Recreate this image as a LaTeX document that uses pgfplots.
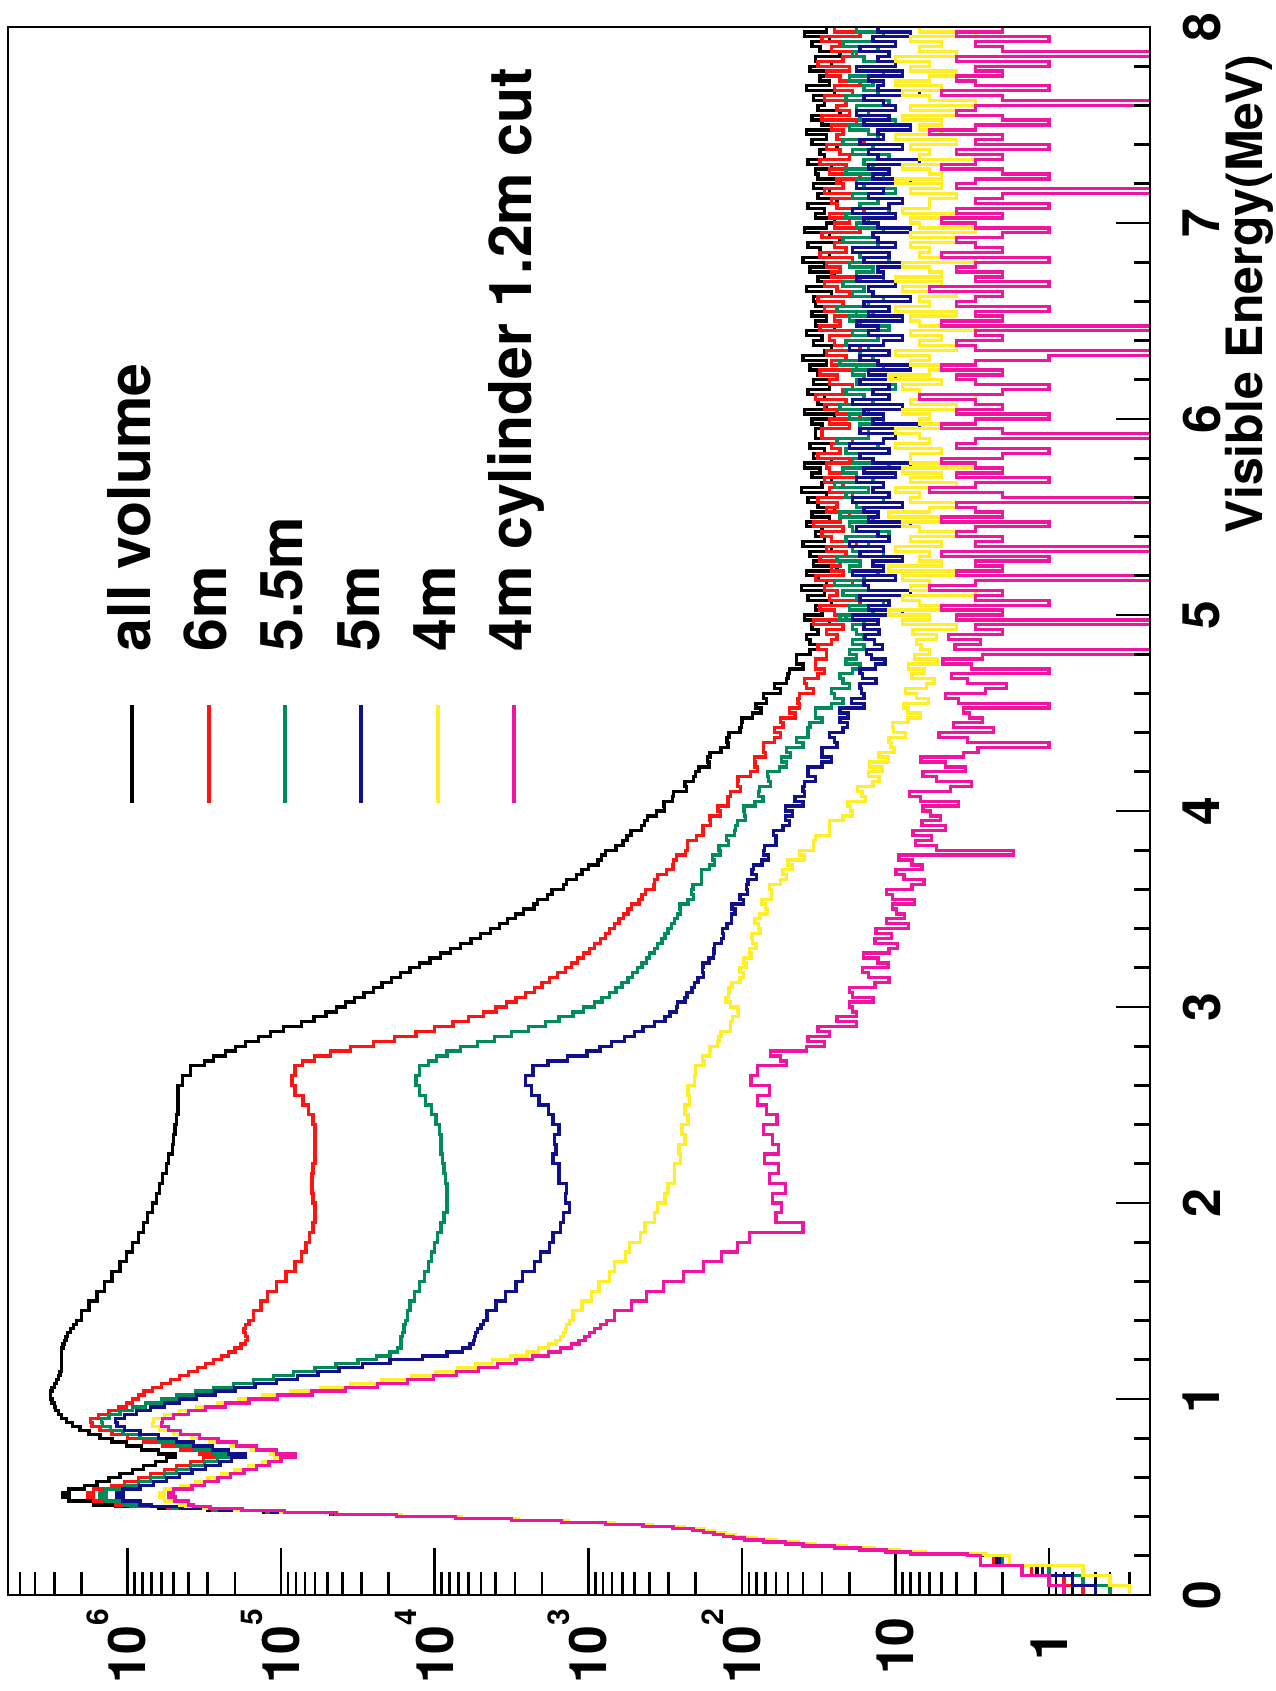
\documentclass[border=0pt]{standalone}
\usepackage{fontspec}
\setmainfont{TeX Gyre Heros}
\usepackage{pgfplots}
\usepackage{pgfplotstable}
\pgfplotsset{compat=1.18}

\definecolor{cGreen}{RGB}{0,140,90}
\definecolor{cBlue}{RGB}{16,16,140}
\definecolor{cRed}{RGB}{255,20,20}
\definecolor{cYellow}{RGB}{255,238,40}
\definecolor{cPink}{RGB}{240,20,160}

% Visible-energy spectra (counts per bin), each bin starts at E
% K: all volume, R: 6m, G: 5.5m, B: 5m, Y: 4m, M: 4m cylinder 1.2m cut
\pgfplotstableread{
E K R G B Y M
0.00 0.5 0.6 0.4 0.5 0.3 0.8
0.05 0.7 0.8 0.6 0.7 0.4 1.0
0.10 1.2 1.3 1.0 1.1 0.6 1.5
0.15 2.2 2.3 2.0 2.1 1.8 2.8
0.20 2.8 2.9 2.7 2.8 2.6 3.4
0.21 6.9 7.0 6.6 6.8 6.4 8
0.22 10 10 9.7 9.8 9.4 11.5
0.23 14.5 14.8 14 14.2 13.8 17
0.24 22 22 21 21.5 21 25
0.25 35 35 34 34 33 40
0.26 45 46 44 44 43 52
0.27 63 64 62 61 60 72
0.28 85 86 83 82 81 96
0.29 100 101 98 97 95 113
0.30 117 118 115 113 111 132
0.31 135 136 132 130 128 152
0.32 158 160 155 152 150 178
0.33 186 188 183 180 176 208
0.34 251 253 246 242 238 280
0.35 400 402 392 385 380 440
0.36 710 712 695 685 675 770
0.37 1410 1400 1380 1360 1340 1500
0.38 3000 2980 2940 2900 2850 3150
0.39 7100 7050 6950 6850 6700 7300
0.40 17800 17600 17300 17000 16500 17800
0.41 47900 47000 46000 45000 43000 44000
0.42 130000 125000 120000 115000 100000 95000
0.43 300000 280000 270000 250000 200000 180000
0.44 630000 550000 500000 450000 320000 290000
0.45 1200000 950000 850000 700000 420000 370000
0.46 1660000 1200000 1050000 830000 460000 400000
0.48 2400000 1660000 1380000 1070000 575000 490000
0.50 2630000 1820000 1510000 1170000 620000 540000
0.52 2400000 1660000 1380000 1070000 575000 500000
0.54 1900000 1260000 1050000 830000 450000 380000
0.56 1580000 1050000 850000 680000 360000 316000
0.58 1320000 850000 710000 560000 300000 257000
0.60 1120000 710000 575000 460000 245000 214000
0.62 930000 575000 480000 380000 200000 174000
0.64 790000 480000 390000 310000 162000 145000
0.66 660000 390000 316000 250000 132000 120000
0.68 560000 320000 260000 210000 110000 100000
0.70 490000 260000 214000 170000 89000 81000
0.72 630000 340000 275000 220000 117000 107000
0.74 810000 450000 360000 280000 158000 145000
0.76 1020000 590000 480000 370000 214000 195000
0.78 1260000 780000 630000 480000 290000 257000
0.80 1510000 1000000 830000 630000 380000 340000
0.82 1780000 1260000 1070000 830000 500000 450000
0.84 2040000 1510000 1290000 1050000 620000 540000
0.86 2290000 1700000 1450000 1170000 690000 600000
0.88 2500000 1740000 1480000 1200000 680000 590000
0.90 2700000 1550000 1320000 1050000 575000 500000
0.92 2800000 1320000 1120000 870000 460000 400000
0.94 2950000 1150000 930000 710000 355000 310000
0.96 3000000 1020000 760000 575000 260000 230000
0.98 3100000 930000 600000 460000 190000 162000
1.00 3160000 850000 480000 355000 132000 105000
1.02 3160000 780000 360000 270000 87000 63000
1.04 3100000 690000 275000 200000 55000 38000
1.06 3000000 600000 204000 148000 35000 23500
1.08 2900000 525000 151000 107000 22000 15100
1.10 2800000 460000 112000 78000 14100 10200
1.12 2750000 400000 83000 57500 9800 7200
1.14 2700000 350000 60000 42000 7100 5200
1.16 2700000 310000 44000 29500 5400 3900
1.18 2700000 275000 31600 19500 4200 2950
1.20 2700000 245000 24000 12000 3200 2300
1.22 2700000 220000 19500 8300 2500 1820
1.24 2700000 200000 17400 6600 2100 1510
1.26 2630000 182000 16600 5900 1820 1290
1.28 2570000 170000 16600 5600 1620 1150
1.30 2510000 166000 16600 5500 1510 1050
1.32 2450000 170000 16200 5400 1450 980
1.34 2340000 174000 15800 5250 1410 910
1.36 2240000 170000 15800 5000 1380 830
1.38 2140000 162000 15500 4800 1320 760
1.40 2000000 151000 15100 4570 1260 676
1.45 1780000 135000 14500 3980 1100 525
1.50 1580000 123000 13500 3470 955 417
1.55 1410000 107000 12600 2950 850 324
1.60 1260000 93000 11700 2690 725 240
1.65 1120000 81000 11000 2240 676 178
1.70 1020000 74000 10500 2040 575 135
1.75 930000 69000 10000 1780 537 107
1.80 850000 65000 9550 1700 457 89
1.85 790000 62000 9100 1510 427 40
1.90 740000 60000 8700 1450 372 60
1.95 690000 60000 8300 1320 355 55
2.00 650000 62000 8300 1410 316 63
2.05 620000 63000 8300 1380 302 52
2.10 590000 63000 8500 1550 275 66
2.15 560000 62000 8700 1550 275 58
2.20 540000 60000 8900 1700 251 71
2.25 510000 60000 9100 1620 257 58
2.30 500000 60000 9100 1660 234 63
2.35 490000 60000 9300 1550 245 72
2.40 480000 62000 9800 1700 224 59
2.45 470000 66000 10500 1820 234 69
2.50 470000 72000 11500 2090 219 79
2.55 470000 81000 12600 2340 224 66
2.60 440000 85000 13200 2570 204 87
2.65 390000 81000 12600 2290 200 79
2.700 316000 72400 10960 1830 176 51
2.725 275000 60300 9770 1360 181 56
2.750 229000 47900 8320 1020 162 65
2.775 199000 35500 6760 837 161 38
2.800 170000 25100 5250 707 144 29
2.825 141000 18200 4070 578 141 37
2.850 117000 13200 3160 502 137 27
2.875 96000 10000 2450 440 118 32
2.900 74000 7590 1905 369 118 18
2.925 61000 6030 1550 317 115 24
2.950 51000 4790 1260 293 105 18
2.975 43600 3980 1070 267 106 19
3.000 38000 3390 912 263 118 20
3.025 33200 2950 813 234 127 14
3.050 28900 2570 724 227 122 19
3.075 25100 2240 661 211 121 20
3.100 22000 2000 603 204 116 13.6
3.125 19100 1780 550 193 103 11
3.150 16700 1580 513 178 98 15
3.175 14500 1410 479 181 103 16.4
3.200 12600 1290 447 179 94 11.2
3.225 10700 1175 417 164 97 13
3.250 9160 1070 398 153 87 16.2
3.275 7880 977 372 152 89 11
3.300 6780 912 355 151 81 9.7
3.325 5810 832 331 136 85 13.6
3.350 5010 776 316 132 86 10.6
3.375 4310 724 302 133 76 13.4
3.400 3800 676 288 125 78 8.2
3.425 3360 631 275 117 82 11.4
3.450 2980 589 263 117 76 8.7
3.475 2630 550 251 111 68 9.8
3.500 2250 523 253 116 70 10.4
3.525 2140 467 224 98 74 7.5
3.550 1840 447 206 103 64 10.5
3.575 1720 423 212 92 64 11.4
3.600 1450 373 208 93 66 7.8
3.625 1380 372 184 91 56 6.5
3.650 1190 354 183 80 51 8.8
3.675 1100 310 184 86 54 9.9
3.700 1000 280 163 84 47 6.7
3.725 865 278 151 74 50 7.8
3.750 820 266 156 67 39 9.5
3.775 770 233 139 72 42 1.7
3.800 660 225 141 71 34 5.4
3.825 594 225 122 60 34 7.4
3.850 560 197 126 60 33 5.8
3.875 528 179 112 62 27 7.7
3.900 452 179 110 54 27 4.7
3.925 429 160 107 49 27 6.7
3.950 410 161 95 52 22 5.1
3.975 359 138 96 47 19 5.9
4.000 319 143 97 52 19.6 6.6
4.025 322 123 82 40 20.4 3.9
4.050 282 123 73 45 15.6 6.9
4.075 278 118 78 39 16.5 8.1
4.100 230 102 77 40 17.7 4.4
4.125 235 107 65 39 14 3.2
4.150 207 106 67 33 12.8 5.4
4.175 200 88 68 37 14.9 6.6
4.200 190 79 57 37 12.2 3.5
4.225 164 82 51 30 14.7 4.7
4.250 168 83 55 26 11.2 6.8
4.275 161 70 48 30 12.8 3.6
4.300 137 72 51 30 10.2 2.9
4.325 123 72 40 24 10.7 1
4.350 125 61 44 25 11 3.4
4.375 121 56 37 27 8.6 5.2
4.400 103 61 37 22 10.3 2.3
4.425 101 54 36 20.5 10.5 4.2
4.450 100 56 30 23 8.3 2.7
4.475 85 45 33 20.4 6.9 3.3
4.500 75 49 33 23 8.3 3.6
4.525 81 42 26 16 8.9 1
4.550 69 43 22 19.4 6.1 3.9
4.575 72 42 25 16 7.3 4.7
4.600 56 34 26 16.6 8.6 2.6
4.625 61 38 20 17 6.3 1.9
4.650 51 39 22 13.4 5.6 3.4
4.675 50 32 23 16.4 7.8 4.3
4.700 49 29 19 17 6.5 1
4.725 40 33 17 13.5 8.2 3.2
4.750 44 33 21 11.7 5.3 4.9
4.775 44 28 18 14.3 7.5 2.7
4.800 36 28 20 15.4 6 0.1
4.825 32 32 16 12.1 6.8 4.1
4.850 36 26 19 13.7 7.3 2.8
4.875 38 24 16 15.8 5.4 4.5
4.900 32 28 18 12.8 7.7 2.0
4.925 35 22 19 16 4 3
4.950 27 34 16 13 9 0.1
4.975 39 21 23 19 6 4
5.000 30 25 14 9 11 2
5.025 33 31 20 15 5 5
5.050 26 17 12 11 7 1
5.075 37 27 18 17 9 3
5.100 29 24 22 8 3 2
5.125 41 29 15 15 8 6
5.150 28 19 25 16 6 3
5.175 32 33 16 10 9 0.1
5.200 38 22 13 19 4 4
5.225 24 26 20 12 11 2
5.250 34 23 17 14 5 3
5.275 31 31 24 9 7 1
5.300 36 21 12 17 6 5
5.325 26 28 19 12 10 0.1
5.350 40 18 15 20 5 3
5.375 29 26 21 11 8 2
5.400 33 30 11 13 4 4
5.425 30 22 19 18 7 3
5.450 38 34 20 8 9 1
5.475 27 23 14 15 5 5
5.500 35 20 23 13 11 2
5.525 25 28 16 16 6 3
5.550 32 24 18 9 4 4
5.575 37 32 12 19 8 0.1
5.600 28 19 21 11 7 2
5.625 41 27 15 14 10 6
5.650 30 22 25 12 4 3
5.675 26 29 14 18 8 1
5.700 35 18 18 10 5 4
5.725 31 27 22 16 9 2
5.750 39 28 11 8 3 3
5.775 26 20 19 14 8 5
5.800 34 32 17 17 8 2
5.825 29 23 21 11 5 1
5.850 36 26 13 20 10 4
5.875 24 19 24 12 6 3
5.900 33 30 15 10 7 0.1
5.925 33 30 15 17 10 2
5.950 30 20 17 7 5 5
5.975 35 27 12 14 7 3
6.000 25 17 20 12 6 1
6.025 39 24 15 16 9 4
6.050 28 29 23 9 4 2
6.075 32 21 14 19 8 3
6.100 29 33 16 11 3 7
6.125 37 22 21 14 7 2
6.150 27 19 10 11 9 1
6.175 34 27 18 17 5 3
6.200 24 24 16 10 11 4
6.225 32 31 19 15 6 2
6.250 36 18 12 8 4 5
6.275 28 26 23 13 8 3
6.300 40 21 14 17 6 1
6.325 29 28 17 11 10 0.1
6.350 26 17 15 20 4 3
6.375 34 25 21 12 7 4
6.400 30 27 13 9 5 2
6.425 38 19 19 15 8 3
6.450 25 31 11 13 3 0.1
6.475 33 23 17 18 7 5
6.500 28 25 20 9 8 2
6.525 35 18 14 15 4 3
6.550 24 29 24 11 10 1
6.575 33 22 15 16 6 4
6.600 34 32 12 8 7 3
6.625 26 20 19 14 4 2
6.650 38 24 16 15 9 6
6.675 29 29 22 10 5 1
6.700 32 17 12 18 10 3
6.725 25 26 18 12 5 2
6.750 36 23 14 13 6 4
6.775 29 28 20 9 9 3
6.800 40 19 11 16 3 1
6.825 27 31 17 11 7 5
6.850 31 21 19 19 6 2
6.875 37 25 13 10 8 3
6.900 23 22 22 13 4 4
6.925 27 30 14 14 8 2
6.950 39 17 12 8 3 1
6.975 28 25 18 13 7 3
7.000 25 20 15 16 8 5
7.025 33 27 21 10 4 2
7.050 29 16 11 19 9 4
7.075 37 24 17 11 6 1
7.100 24 26 13 9 6 3
7.125 32 19 19 15 4 2
7.150 27 29 10 12 8 0.1
7.175 34 22 16 18 5 4
7.200 23 24 18 8 10 3
7.225 32 17 12 14 5 1
7.250 33 27 21 11 6 2
7.275 26 21 14 15 9 5
7.300 37 31 16 7 3 3
7.325 29 20 11 13 7 2
7.350 31 23 19 15 6 4
7.375 24 28 14 9 8 1
7.400 35 16 22 17 4 3
7.425 28 24 13 12 10 2
7.450 38 22 15 13 5 6
7.475 26 26 20 8 7 3
7.500 30 18 10 16 5 1
7.525 35 30 17 11 9 2
7.550 23 20 15 18 4 4
7.575 32 24 18 10 8 3
7.600 29 21 11 12 3 0.1
7.625 34 29 21 16 6 2
7.650 25 19 13 7 9 5
7.675 38 25 16 13 5 1
7.700 27 17 14 12 10 3
7.725 31 23 20 15 6 4
7.750 28 28 12 9 4 2
7.775 36 20 18 18 8 3
7.800 26 32 10 10 6 1
7.825 33 22 16 13 10 4
7.850 23 18 19 11 4 0.1
7.875 31 26 13 17 7 2
7.900 35 23 22 10 5 3
7.925 27 30 14 14 8 1
7.950 39 17 12 8 3 4
7.975 28 25 18 13 7 2
8.000 28 25 18 13 7 2
}\spectra

% power-of-ten tick label with a raised exponent
\newcommand\tenpow[1]{10\smash{\raisebox{11.1pt}{\fontsize{9}{9}\selectfont #1}}}

\begin{document}
\begin{tikzpicture}[rotate=90, transform shape]
\useasboundingbox (0,0) rectangle (507.3pt,382.5pt);
% spectra, log-count axis with its ticks
\begin{axis}[
  at={(28.8pt,37.5pt)}, anchor=south west,
  scale only axis, width=470.4pt, height=342.6pt,
  xmin=0, xmax=8, ymode=log, ymin=0.22, ymax=6e6,
  axis line style={line width=0.8pt},
  tick pos=left, tick align=inside,
  major tick length=14pt, minor tick length=7pt,
  tick style={line width=0.8pt, black},
  xtick=\empty,
  ytick={1,10,100,1000,10000,100000,1000000},
  yticklabels={1,10,\tenpow{2},\tenpow{3},\tenpow{4},\tenpow{5},\tenpow{6}},
  minor ytick={0.3,0.4,0.5,0.6,0.7,0.8,0.9,2,3,4,5,6,7,8,9,20,30,40,50,60,70,80,90,200,300,400,500,600,700,800,900,2000,3000,4000,5000,6000,7000,8000,9000,20000,30000,40000,50000,60000,70000,80000,90000,200000,300000,400000,500000,600000,700000,800000,900000,2000000,3000000,4000000,5000000},
  yticklabel style={anchor=center, inner sep=0pt, xshift=-15.3pt,
    font=\fontsize{15.5}{15.5}\selectfont\bfseries},
  legend style={
    at={(0.5038,0.9127)}, anchor=north west,
    draw=none, fill=none, inner sep=0pt, outer sep=0pt,
    row sep=6.5pt,
    font=\fontsize{17.7}{17.7}\selectfont\bfseries,
    nodes={inner sep=0pt, text height=12.7pt, text depth=3.7pt},
    /tikz/every odd column/.append style={column sep=15.6pt},
  },
  legend cell align=left,
  legend image code/.code={\draw[#1, line width=1.2pt] (0pt,0.8pt) -- (29.4pt,0.8pt);},
  every axis plot/.append style={const plot, line width=1.0pt, no marks},
]
\addplot[black]   table[x=E, y=K] {\spectra};
\addplot[cRed]    table[x=E, y=R] {\spectra};
\addplot[cGreen]  table[x=E, y=G] {\spectra};
\addplot[cBlue]   table[x=E, y=B] {\spectra};
\addplot[cYellow] table[x=E, y=Y] {\spectra};
\addplot[cPink]   table[x=E, y=M] {\spectra};
\addlegendentry{all volume}
\addlegendentry{6m}
\addlegendentry{5.5m}
\addlegendentry{5m}
\addlegendentry{4m}
\addlegendentry{4m cylinder 1.2m cut}
\end{axis}
% energy axis with its own tick lengths
\begin{axis}[
  at={(28.8pt,37.5pt)}, anchor=south west,
  scale only axis, width=470.4pt, height=342.6pt,
  xmin=0, xmax=8, ymin=0, ymax=1,
  axis line style={line width=0.8pt},
  tick pos=left, tick align=inside,
  major tick length=10.3pt, minor tick length=4.8pt,
  tick style={line width=0.8pt, black},
  ytick=\empty,
  xtick={0,1,2,3,4,5,6,7,8},
  xticklabels={0,1,2,3,4,5,6,7,8},
  minor x tick num=4,
  xticklabel style={anchor=north, inner sep=0pt, yshift=-9.6pt,
    font=\fontsize{15.5}{15.5}\selectfont\bfseries},
  xlabel={Visible Energy(MeV)},
  xlabel style={at={(axis description cs:1,0)}, anchor=base east,
    inner sep=0pt, xshift=-8.1pt, yshift=-33.6pt,
    font=\fontsize{15}{15}\selectfont\bfseries},
]
\end{axis}
\end{tikzpicture}
\end{document}
